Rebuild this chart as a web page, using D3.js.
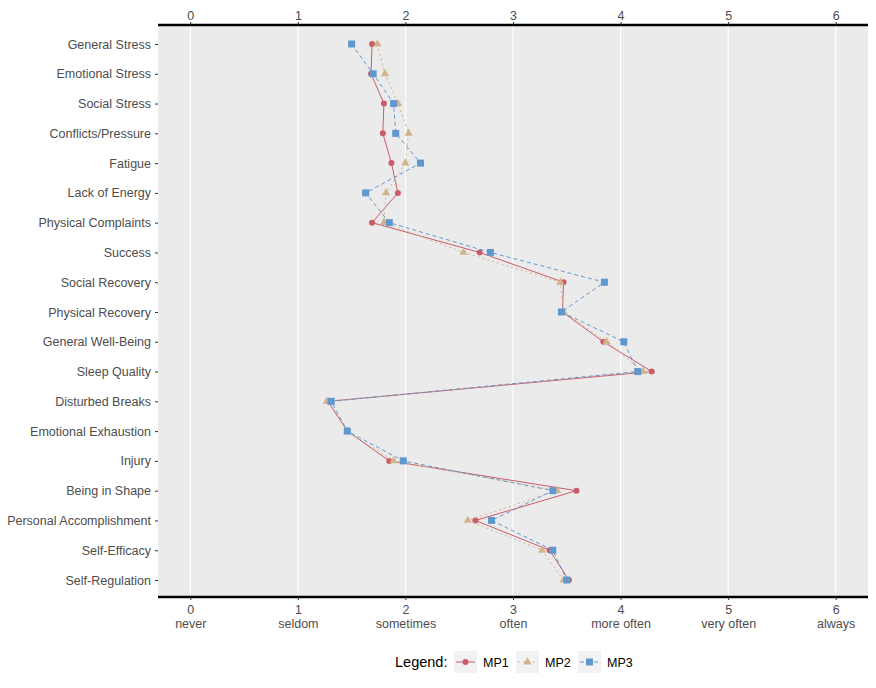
<!DOCTYPE html>
<html>
<head>
<meta charset="utf-8">
<script src="https://cdn.jsdelivr.net/npm/d3@7.9.0/dist/d3.min.js"></script>
<style>
  body { margin: 0; background: #fff; }
  svg { font-family: "Liberation Sans", Arial, sans-serif; }
</style>
</head>
<body>
<svg id="chart" width="876" height="688"></svg>
<script>
// categories top to bottom
const categories = ["General Stress", "Emotional Stress", "Social Stress", "Conflicts/Pressure",
  "Fatigue", "Lack of Energy", "Physical Complaints", "Success", "Social Recovery",
  "Physical Recovery", "General Well-Being", "Sleep Quality", "Disturbed Breaks",
  "Emotional Exhaustion", "Injury", "Being in Shape", "Personal Accomplishment",
  "Self-Efficacy", "Self-Regulation"];

const mp1 = [1.69, 1.68, 1.80, 1.79, 1.87, 1.93, 1.69, 2.69, 3.47, 3.46, 3.84, 4.29,
  1.28, 1.46, 1.85, 3.59, 2.65, 3.34, 3.52];
const mp2 = [1.74, 1.81, 1.93, 2.03, 2.00, 1.82, 1.80, 2.54, 3.44, 3.47, 3.87, 4.21,
  1.27, 1.46, 1.89, 3.41, 2.58, 3.27, 3.47];
const mp3 = [1.50, 1.70, 1.89, 1.91, 2.14, 1.63, 1.85, 2.79, 3.85, 3.45, 4.03, 4.16,
  1.31, 1.46, 1.98, 3.37, 2.80, 3.37, 3.50];

const tickValues = [0, 1, 2, 3, 4, 5, 6];
const tickLabels = ["never", "seldom", "sometimes", "often", "more often", "very often", "always"];
const seriesNames = ["MP1", "MP2", "MP3"];

const series = [
  { name: "MP1", values: mp1, color: "#CB5B6B", dash: null, shape: "circle" },
  { name: "MP2", values: mp2, color: "#D2B48C", dash: "2,3", shape: "triangle" },
  { name: "MP3", values: mp3, color: "#5F98CF", dash: "4,3", shape: "square" }
];

const svg = d3.select("#chart");
const panel = { left: 158, right: 868, top: 25, bottom: 597 };

const x = d3.scaleLinear().domain([-0.3, 6.3]).range([panel.left, panel.right]);
const y = d3.scalePoint().domain(categories).range([44, 580]);

const grey = "#4D4D4D";

svg.append("rect")
  .attr("x", panel.left).attr("y", panel.top)
  .attr("width", panel.right - panel.left).attr("height", panel.bottom - panel.top)
  .attr("fill", "#EBEBEB");

// vertical gridlines
svg.append("g").selectAll("line")
  .data(tickValues).join("line")
  .attr("x1", d => x(d)).attr("x2", d => x(d))
  .attr("y1", panel.top).attr("y2", panel.bottom)
  .attr("stroke", "#fff").attr("stroke-width", 1.1);

// top axis
const axTop = svg.append("g").attr("transform", `translate(0,${panel.top})`)
  .call(d3.axisTop(x).tickValues(tickValues).tickSize(3).tickFormat(d3.format("d")));
axTop.select(".domain").attr("stroke", "#000").attr("stroke-width", 2.5)
  .attr("d", `M${panel.left},0H${panel.right}`);
axTop.selectAll(".tick line").attr("stroke", "#333");
axTop.selectAll(".tick text").attr("fill", grey).attr("font-size", 12.5).attr("y", -5);

// bottom axis with two-line labels
const axBot = svg.append("g").attr("transform", `translate(0,${panel.bottom})`)
  .call(d3.axisBottom(x).tickValues(tickValues).tickSize(3).tickFormat(""));
axBot.select(".domain").attr("stroke", "#000").attr("stroke-width", 2.5)
  .attr("d", `M${panel.left},0H${panel.right}`);
axBot.selectAll(".tick line").attr("stroke", "#333");
axBot.selectAll(".tick").each(function(d, i) {
  const g = d3.select(this);
  g.append("text").attr("y", 17).attr("fill", grey).attr("font-size", 12.5)
    .attr("text-anchor", "middle").text(d);
  g.append("text").attr("y", 31).attr("fill", grey).attr("font-size", 12.5)
    .attr("text-anchor", "middle").text(tickLabels[i]);
});

// left axis
const axLeft = svg.append("g").attr("transform", `translate(${panel.left},0)`)
  .call(d3.axisLeft(y).tickSize(3).tickPadding(4));
axLeft.select(".domain").remove();
axLeft.selectAll(".tick line").attr("stroke", "#333");
axLeft.selectAll(".tick text").attr("fill", grey).attr("font-size", 12.5);

// lines + points
const line = d3.line().x(d => x(d.v)).y(d => y(d.c));
const tri = d3.symbol().type(d3.symbolTriangle).size(30);

series.forEach(s => {
  const pts = categories.map((c, i) => ({ c, v: s.values[i] }));
  svg.append("path").datum(pts)
    .attr("d", line).attr("fill", "none")
    .attr("stroke", s.color).attr("stroke-width", 1)
    .attr("stroke-dasharray", s.dash);
  const g = svg.append("g").attr("fill", s.color);
  if (s.shape === "circle") {
    g.selectAll("circle").data(pts).join("circle")
      .attr("cx", d => x(d.v)).attr("cy", d => y(d.c)).attr("r", 3);
  } else if (s.shape === "triangle") {
    g.selectAll("path").data(pts).join("path")
      .attr("d", tri).attr("transform", d => `translate(${x(d.v)},${y(d.c)})`);
  } else {
    g.selectAll("rect").data(pts).join("rect")
      .attr("x", d => x(d.v) - 3.5).attr("y", d => y(d.c) - 3.5)
      .attr("width", 7).attr("height", 7);
  }
});

// legend
const leg = svg.append("g").attr("transform", "translate(0,662)");
leg.append("text").attr("x", 395).attr("y", 5).attr("font-size", 14.5)
  .attr("fill", "#000").text("Legend:");
series.forEach((s, i) => {
  const kx = 454 + i * 62;
  const k = leg.append("g").attr("transform", `translate(${kx},0)`);
  k.append("rect").attr("x", 0).attr("y", -11).attr("width", 23).attr("height", 22).attr("fill", "#F2F2F2");
  k.append("line").attr("x1", 2).attr("x2", 21).attr("y1", 0).attr("y2", 0)
    .attr("stroke", s.color).attr("stroke-dasharray", s.dash);
  if (s.shape === "circle") k.append("circle").attr("cx", 11.5).attr("cy", 0).attr("r", 3).attr("fill", s.color);
  else if (s.shape === "triangle") k.append("path").attr("d", tri).attr("transform", "translate(11.5,0)").attr("fill", s.color);
  else k.append("rect").attr("x", 8).attr("y", -3.5).attr("width", 7).attr("height", 7).attr("fill", s.color);
  k.append("text").attr("x", 29).attr("y", 5).attr("font-size", 12.5).attr("fill", "#000").text(seriesNames[i]);
});
</script>
</body>
</html>
